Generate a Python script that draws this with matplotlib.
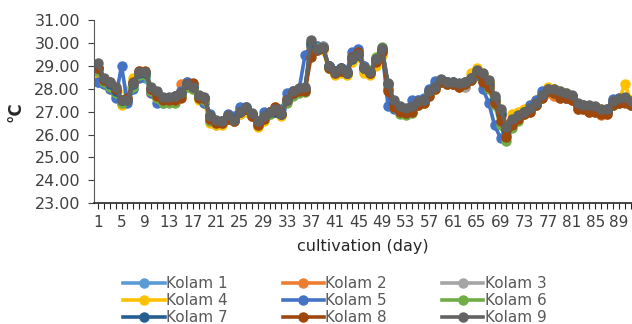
import matplotlib
matplotlib.use("Agg")
import matplotlib.pyplot as plt
from matplotlib.ticker import MultipleLocator, FixedLocator

plt.rcParams["font.family"] = ["DejaVu Sans"]

days = list(range(1, 92))
tick_days = list(range(1, 92, 4))

kolam_names = ["Kolam 1", "Kolam 2", "Kolam 3", "Kolam 4", "Kolam 5",
               "Kolam 6", "Kolam 7", "Kolam 8", "Kolam 9"]
kolam_colors = ["#5B9BD5", "#ED7D31", "#A5A5A5", "#FFC000", "#4472C4",
                "#70AD47", "#255E91", "#9E480E", "#636363"]

k1 = [28.3, 28.3, 28.2, 27.8, 27.4, 27.5, 28.2, 28.6, 28.5, 27.9,
      27.6, 27.5, 27.6, 27.6, 27.8, 28.2, 28.2, 27.6, 27.6, 26.8,
      26.5, 26.5, 26.8, 26.7, 27.1, 27.2, 26.9, 26.5, 26.7, 27.0,
      27.1, 26.9, 27.6, 27.9, 28.0, 28.0, 30.0, 29.8, 29.9, 29.0,
      28.8, 28.9, 28.7, 29.4, 29.6, 28.9, 28.8, 29.3, 29.7, 28.2,
      27.4, 27.2, 27.1, 27.3, 27.5, 27.5, 27.9, 28.2, 28.4, 28.3,
      28.3, 28.2, 28.3, 28.5, 28.8, 28.5, 28.3, 27.6, 27.0, 26.3,
      26.6, 26.8, 27.0, 27.2, 27.4, 27.7, 28.0, 28.0, 27.8, 27.8,
      27.7, 27.3, 27.3, 27.2, 27.2, 27.0, 27.1, 27.5, 27.6, 27.6, 27.4]
k2 = [28.9, 28.4, 28.2, 28.0, 27.5, 27.6, 28.3, 28.8, 28.7, 28.0,
      27.7, 27.5, 27.5, 27.6, 28.2, 28.3, 28.2, 27.6, 27.5, 26.7,
      26.5, 26.5, 26.8, 26.6, 27.0, 27.1, 26.8, 26.4, 26.7, 27.0,
      27.2, 26.9, 27.6, 27.8, 27.9, 28.0, 29.9, 29.9, 29.8, 29.0,
      28.7, 28.8, 28.7, 29.5, 29.6, 29.0, 28.8, 29.2, 29.6, 28.0,
      27.3, 27.1, 27.0, 27.1, 27.3, 27.4, 27.7, 28.0, 28.3, 28.2,
      28.2, 28.1, 28.1, 28.4, 28.7, 28.5, 28.2, 27.5, 26.8, 26.0,
      26.5, 26.7, 26.9, 27.0, 27.3, 27.6, 27.8, 27.7, 27.6, 27.6,
      27.5, 27.1, 27.1, 27.0, 27.0, 26.85, 26.9, 27.3, 27.4, 27.5, 27.3]
k3 = [28.9, 28.3, 28.1, 27.8, 27.4, 27.5, 28.2, 28.6, 28.6, 28.0,
      27.7, 27.5, 27.5, 27.6, 27.7, 28.1, 28.0, 27.6, 27.5, 26.6,
      26.4, 26.5, 26.7, 26.6, 26.9, 27.1, 26.8, 26.4, 26.7, 26.9,
      27.0, 26.9, 27.5, 27.8, 28.0, 28.0, 30.0, 29.8, 29.9, 29.0,
      28.8, 28.8, 28.7, 29.3, 29.5, 28.8, 28.7, 29.3, 29.7, 28.2,
      27.4, 27.1, 27.0, 27.2, 27.4, 27.5, 27.8, 28.1, 28.4, 28.3,
      28.2, 28.2, 28.1, 28.4, 28.8, 28.6, 28.3, 27.6, 27.0, 26.2,
      26.6, 26.8, 27.0, 27.1, 27.3, 27.7, 27.9, 27.9, 27.8, 27.7,
      27.6, 27.2, 27.2, 27.1, 27.1, 27.0, 27.0, 27.4, 27.5, 27.5, 27.3]
k4 = [28.5, 28.2, 28.0, 27.7, 27.3, 27.9, 28.5, 28.7, 28.6, 27.8,
      27.6, 27.5, 27.5, 27.6, 27.7, 28.1, 28.0, 27.5, 27.4, 26.5,
      26.4, 26.4, 26.7, 26.6, 26.9, 27.0, 26.8, 26.35, 26.6, 26.9,
      27.0, 26.8, 27.5, 27.8, 27.9, 28.0, 29.8, 29.9, 29.7, 28.9,
      28.6, 28.7, 28.6, 29.2, 29.4, 28.7, 28.6, 29.0, 29.5, 28.1,
      27.4, 27.1, 27.0, 27.2, 27.4, 27.4, 27.8, 28.0, 28.3, 28.2,
      28.2, 28.2, 28.3, 28.7, 28.9, 28.6, 28.3, 27.5, 26.6, 26.3,
      26.9, 27.0, 27.1, 27.3, 27.5, 27.8, 28.1, 28.0, 27.9, 27.8,
      27.7, 27.3, 27.2, 27.2, 27.2, 27.1, 27.1, 27.3, 27.5, 28.2, 27.5]
k5 = [28.3, 28.2, 28.0, 27.6, 29.0, 27.4, 28.0, 28.5, 28.6, 27.8,
      27.4, 27.4, 27.6, 27.7, 27.9, 28.3, 28.1, 27.7, 27.4, 26.9,
      26.6, 26.6, 26.9, 26.8, 27.2, 27.2, 26.9, 26.5, 27.0, 27.0,
      27.0, 27.1, 27.8, 27.9, 28.0, 29.5, 29.9, 29.9, 29.8, 29.0,
      28.8, 28.9, 28.8, 29.6, 29.75, 29.0, 28.8, 29.3, 29.7, 27.25,
      27.1, 27.1, 27.1, 27.5, 27.5, 27.6, 28.0, 28.35, 28.4, 28.3,
      28.2, 28.2, 28.2, 28.4, 28.6, 28.0, 27.4, 26.4, 25.85, 26.2,
      26.6, 26.8, 27.0, 27.3, 27.5, 27.9, 28.0, 27.9, 27.7, 27.6,
      27.7, 27.3, 27.3, 27.2, 27.1, 27.0, 27.1, 27.55, 27.5, 27.5, 27.4]
k6 = [28.8, 28.3, 28.1, 27.8, 27.4, 27.5, 28.1, 28.6, 28.6, 27.9,
      27.6, 27.4, 27.4, 27.4, 27.7, 28.1, 28.0, 27.6, 27.5, 26.6,
      26.5, 26.5, 26.7, 26.6, 27.0, 27.1, 26.8, 26.4, 26.7, 26.9,
      27.0, 26.9, 27.4, 27.7, 27.8, 27.85, 30.0, 29.8, 29.8, 28.9,
      28.7, 28.8, 28.7, 29.3, 29.5, 28.9, 28.8, 29.4, 29.85, 28.0,
      27.2, 26.9, 26.85, 26.95, 27.3, 27.4, 27.8, 28.1, 28.3, 28.2,
      28.2, 28.2, 28.2, 28.4, 28.7, 28.4, 28.0, 27.3, 26.4, 25.7,
      26.3, 26.6, 26.9, 27.1, 27.3, 27.6, 27.9, 27.8, 27.7, 27.7,
      27.6, 27.2, 27.2, 27.1, 27.1, 27.0, 27.0, 27.3, 27.4, 27.5, 27.3]
k7 = [28.9, 28.4, 28.2, 27.9, 27.5, 27.5, 28.2, 28.7, 28.7, 28.0,
      27.8, 27.6, 27.6, 27.7, 27.8, 28.2, 28.1, 27.7, 27.6, 26.8,
      26.6, 26.6, 26.8, 26.7, 27.0, 27.1, 26.9, 26.6, 26.8, 27.0,
      27.0, 26.9, 27.5, 27.8, 28.0, 28.0, 30.0, 29.7, 29.8, 29.0,
      28.8, 28.9, 28.7, 29.3, 29.5, 28.9, 28.7, 29.3, 29.7, 28.2,
      27.4, 27.2, 27.1, 27.2, 27.4, 27.5, 27.9, 28.1, 28.4, 28.3,
      28.3, 28.2, 28.3, 28.5, 28.8, 28.5, 28.2, 27.5, 26.9, 26.2,
      26.6, 26.8, 27.0, 27.1, 27.4, 27.7, 27.9, 27.9, 27.8, 27.7,
      27.7, 27.3, 27.2, 27.2, 27.2, 27.0, 27.0, 27.4, 27.5, 27.6, 27.4]
k8 = [28.9, 28.4, 28.3, 28.0, 27.5, 27.6, 28.3, 28.8, 28.8, 28.0,
      27.7, 27.5, 27.5, 27.5, 27.6, 28.2, 28.25, 27.6, 27.6, 26.7,
      26.5, 26.5, 26.7, 26.6, 27.0, 27.1, 26.8, 26.4, 26.7, 27.0,
      27.2, 26.9, 27.5, 27.8, 27.9, 27.9, 29.4, 29.7, 29.8, 28.9,
      28.7, 28.8, 28.7, 29.4, 29.6, 28.9, 28.7, 29.2, 29.6, 27.9,
      27.2, 27.0, 26.95, 27.0, 27.3, 27.4, 27.7, 28.0, 28.3, 28.2,
      28.2, 28.1, 28.2, 28.4, 28.7, 28.3, 28.1, 27.4, 26.6, 25.9,
      26.4, 26.7, 26.9, 27.0, 27.3, 27.6, 27.9, 27.8, 27.6, 27.6,
      27.5, 27.1, 27.1, 27.0, 27.0, 26.9, 26.9, 27.3, 27.4, 27.4, 27.3]
k9 = [29.15, 28.5, 28.3, 28.1, 27.5, 27.5, 28.25, 28.75, 28.75, 28.1,
      27.9, 27.65, 27.65, 27.7, 27.8, 28.2, 28.1, 27.75, 27.65, 26.8,
      26.65, 26.6, 26.85, 26.65, 27.0, 27.2, 26.95, 26.6, 26.8, 27.0,
      27.1, 26.9, 27.5, 27.9, 28.05, 28.1, 30.15, 29.75, 29.85, 29.0,
      28.75, 28.9, 28.7, 29.35, 29.55, 28.9, 28.75, 29.3, 29.8, 28.25,
      27.5, 27.25, 27.15, 27.25, 27.45, 27.5, 27.9, 28.1, 28.45, 28.3,
      28.3, 28.25, 28.3, 28.5, 28.85, 28.7, 28.4, 27.7, 27.1, 26.35,
      26.7, 26.85, 27.0, 27.15, 27.4, 27.75, 28.0, 28.0, 27.9, 27.8,
      27.75, 27.4, 27.3, 27.3, 27.25, 27.1, 27.1, 27.45, 27.6, 27.65, 27.45]

series = [k1, k2, k3, k4, k5, k6, k7, k8, k9]


def main():
    fig = plt.figure(figsize=(6.32, 3.24), dpi=100)
    ax = fig.add_axes([0.1487, 0.3735, 0.8513, 0.5633])

    handles = []
    for nome, cor, valores in zip(kolam_names, kolam_colors, series):
        (linha,) = ax.plot(days, valores, color=cor, linewidth=2.6,
                           marker="o", markersize=6.5, label=nome,
                           solid_joinstyle="round")
        handles.append(linha)

    ax.set_xlim(0.35, 91.2)
    ax.set_ylim(23, 31)
    ax.yaxis.set_major_locator(MultipleLocator(1))
    ax.yaxis.set_major_formatter(matplotlib.ticker.FormatStrFormatter("%.2f"))
    ax.xaxis.set_major_locator(FixedLocator(tick_days))
    ax.xaxis.set_minor_locator(MultipleLocator(1))

    for lado in ["top", "right"]:
        ax.spines[lado].set_visible(False)
    ax.spines["left"].set_color("#595959")
    ax.spines["bottom"].set_color("#262626")
    ax.spines["bottom"].set_linewidth(1.2)

    ax.tick_params(axis="y", labelsize=11.5, colors="#404040", length=4,
                   width=0.8, pad=6)
    ax.tick_params(axis="x", which="both", labelsize=11, labelcolor="#404040",
                   color="#262626", length=4, width=0.8, pad=5)

    ax.set_xlabel("cultivation (day)", fontsize=11.5, color="#262626",
                  labelpad=6)
    ax.set_ylabel("°C", fontsize=12, fontweight="bold", color="#262626",
                  labelpad=7)

    # excel preenche a legenda por linhas, matplotlib por colunas
    ordem = [0, 3, 6, 1, 4, 7, 2, 5, 8]
    fig.legend([handles[i] for i in ordem], [kolam_names[i] for i in ordem],
               ncol=3, loc="center", bbox_to_anchor=(0.53, 0.072),
               frameon=False, fontsize=11, labelcolor="#595959",
               handlelength=2.7, handletextpad=0.1, columnspacing=3.6,
               labelspacing=0.12, borderpad=0.1)

    fig.savefig("out.png", dpi=100)
    plt.close(fig)


if __name__ == "__main__":
    main()
